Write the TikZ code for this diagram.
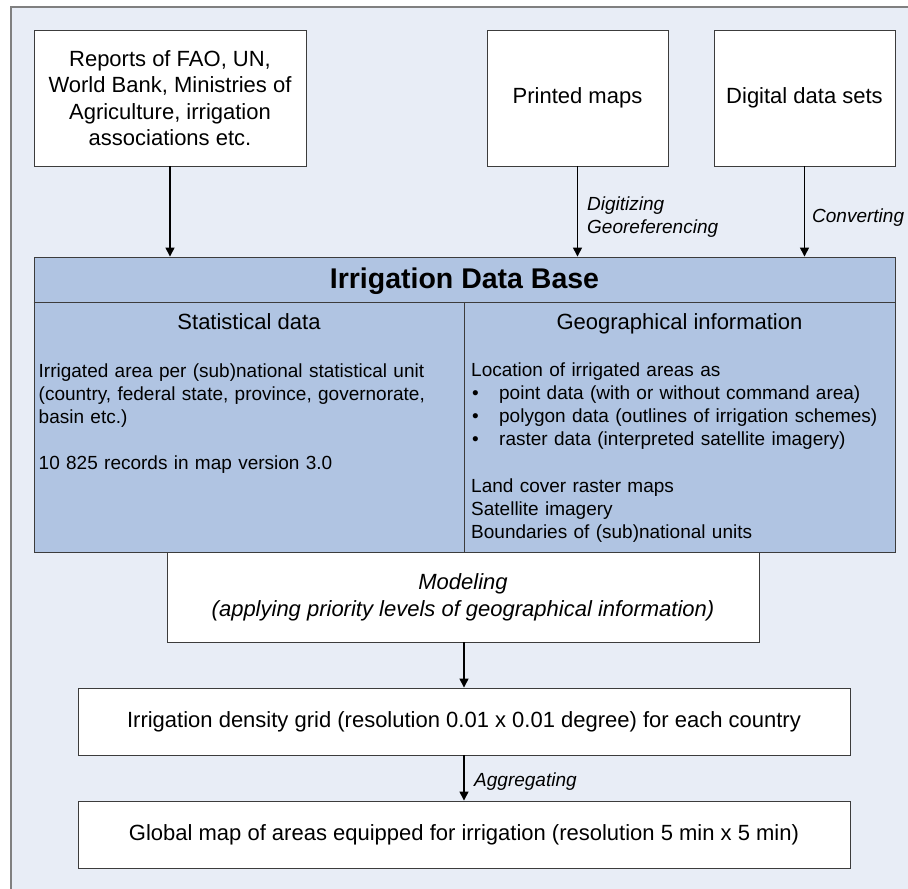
\documentclass[tikz,border=0pt]{standalone}
\usepackage{fontspec}
\setmainfont{Liberation Sans}
\usetikzlibrary{arrows.meta}
\definecolor{bgc}{RGB}{232,237,246}
\definecolor{dbc}{RGB}{176,196,226}
\definecolor{framec}{RGB}{128,128,128}
\definecolor{linec}{RGB}{60,60,60}
\begin{document}
\begin{tikzpicture}[x=1pt,y=-1pt,
  box/.style={draw=linec, line width=0.9pt, fill=white, inner sep=0pt, align=center, font=\fontsize{22}{26.5}\selectfont},
  arr/.style={draw=black, line width=1.4pt, -{Triangle[width=9pt,length=9pt]}},
  lbl/.style={font=\fontsize{19}{19}\selectfont\itshape, inner sep=0pt, anchor=base west},
  head/.style={font=\fontsize{22}{26}\selectfont, inner sep=0pt, anchor=base},
  body/.style={font=\fontsize{19}{23}\selectfont, inner sep=0pt, anchor=base west, text width=415pt, align=left}]
\useasboundingbox (0,0) rectangle (908,889);
\fill[bgc] (11,7) rectangle (908,889);
\draw[framec, line width=1.6pt] (11,889) -- (11,7) -- (908,7);

% source boxes
\node[box, minimum width=272pt, minimum height=136pt] (rep) at (170,98)
  {Reports of FAO, UN,\\World Bank, Ministries of\\Agriculture, irrigation\\associations etc.};
\node[box, minimum width=181pt, minimum height=136pt] (pm) at (577.5,98) {Printed maps};
\node[box, minimum width=181pt, minimum height=136pt] (dd) at (804.5,98) {Digital data sets};

% data base
\node[draw=linec, line width=0.9pt, fill=dbc, minimum width=861pt, minimum height=295pt, inner sep=0pt] (db) at (464.5,404.5) {};
\coordinate (hl) at (0,302);
\coordinate (vx) at (464,0);
\draw[linec, line width=0.9pt] (db.west |- hl) -- (db.east |- hl);
\draw[linec, line width=0.9pt] (vx |- hl) -- (vx |- db.south);
\node[font=\fontsize{28.5}{34}\selectfont\bfseries, inner sep=0pt, anchor=base] (title) at (464.5,288) {Irrigation Data Base};
\node[head] (sh) at (249,329) {Statistical data};
\node[head] (gh) at (679.5,329) {Geographical information};
\node[body] (st1) at (38.5,377) {Irrigated area per (sub)national statistical unit\\(country, federal state, province, governorate,\\basin etc.)};
\node[body] (st2) at (38.5,469) {10 825 records in map version 3.0};
\node[body] (gi1) at (471,376) {Location of irrigated areas as\\
  \makebox[28pt][l]{\hspace{1pt}•}point data (with or without command area)\\
  \makebox[28pt][l]{\hspace{1pt}•}polygon data (outlines of irrigation schemes)\\
  \makebox[28pt][l]{\hspace{1pt}•}raster data (interpreted satellite imagery)};
\node[body] (gi2) at (471,492) {Land cover raster maps\\Satellite imagery\\Boundaries of (sub)national units};

% processing boxes
\node[box, minimum width=592pt, minimum height=90pt, font=\fontsize{22}{27}\selectfont\itshape] (mod) at (463,597)
  {Modeling\\(applying priority levels of geographical information)};
\node[box, minimum width=772pt, minimum height=67pt] (dens) at (464,721.5)
  {Irrigation density grid (resolution 0.01 x 0.01 degree) for each country};
\node[box, minimum width=772pt, minimum height=67pt] (glob) at (464,834.5)
  {Global map of areas equipped for irrigation (resolution 5 min x 5 min)};

% connectors
\draw[arr] (rep.south) -- (rep.south |- db.north);
\draw[arr] (pm.south) -- (pm.south |- db.north);
\draw[arr] (dd.south) -- (dd.south |- db.north);
\draw[arr] ([xshift=1pt]mod.south) -- ([xshift=1pt]mod.south |- dens.north);
\draw[arr] (dens.south) -- (dens.south |- glob.north);

% labels
\node[lbl] (l1) at (587,210) {Digitizing};
\node[lbl] (l2) at (587,233) {Georeferencing};
\node[lbl] (l3) at (812,222) {Converting};
\node[lbl] (l4) at (474,786) {Aggregating};
\end{tikzpicture}
\end{document}
